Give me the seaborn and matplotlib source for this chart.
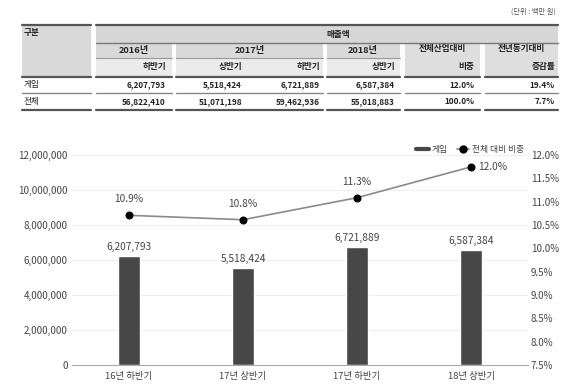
import numpy as np
import matplotlib.pyplot as plt
from matplotlib.lines import Line2D
from matplotlib.patches import Rectangle
from matplotlib.ticker import FuncFormatter
import seaborn as sns

# chart data
periods = ['16년 하반기', '17년 상반기', '17년 하반기', '18년 상반기']
game_sales = [6207793, 5518424, 6721889, 6587384]
share = [10.9, 10.8, 11.3, 12.0]
left_ticks = [0, 2000000, 4000000, 6000000, 8000000, 10000000, 12000000]
right_labels = ['7.5%', '8.0%', '8.5%', '9.0%', '9.5%', '10.0%', '10.5%', '11.0%', '11.5%', '12.0%']

# table data
year_labels = ['2016년', '2017년', '2018년']
half_labels = ['하반기', '상반기', '하반기', '상반기']
row_labels = ['게임', '전체']
game_row = ['6,207,793', '5,518,424', '6,721,889', '6,587,384', '12.0%', '19.4%']
total_row = ['56,822,410', '51,071,198', '59,462,936', '55,018,883', '100.0%', '7.7%']

sns.set_style('white')
plt.rcParams['font.family'] = ['Noto Sans CJK KR', 'DejaVu Sans']

W, H = 585, 389
fig = plt.figure(figsize=(W / 100, H / 100), dpi=100)

def fx(x):
    return x / W

def fy(y):
    return 1 - y / H

# ---------- table ----------
def rect(x0, y0, x1, y1, color):
    fig.patches.append(Rectangle((fx(x0), fy(y1)), fx(x1) - fx(x0), fy(y0) - fy(y1),
                                 transform=fig.transFigure, color=color, lw=0, zorder=0))

def hline(y, x0, x1, lw=1.0, color='#555555'):
    fig.lines.append(Line2D([fx(x0), fx(x1)], [fy(y), fy(y)], transform=fig.transFigure,
                            lw=lw, color=color))

def txt(x, y, s, ha='left', size=6.2, color='#222222', weight='bold'):
    fig.text(fx(x), fy(y), s, ha=ha, va='center', fontsize=size, color=color, fontweight=weight)

groups = [(22, 91), (96, 172), (176, 323), (327, 400), (405, 480), (485, 558)]

rect(22, 25, 91, 77, '#d9d9d9')
rect(96, 25, 558, 43, '#d6d6d6')
for x0, x1 in groups[1:4]:
    rect(x0, 43, x1, 58, '#d9d9d9')
    rect(x0, 58, x1, 77, '#ebebeb')
for x0, x1 in groups[4:]:
    rect(x0, 43, x1, 77, '#dedede')

hline(25, 22, 91, 1.6)
hline(25, 96, 558, 1.6)
hline(43, 96, 558, 1.0, '#777777')
for x0, x1 in groups[1:4]:
    hline(58, x0, x1, 0.8, '#999999')
for x0, x1 in groups:
    hline(77, x0, x1, 1.6, '#555555')
    hline(93, x0, x1, 1.0, '#888888')
    hline(110, x0, x1, 1.6, '#555555')

txt(556, 12, '(단위 : 백만 원)', ha='right', size=5.2, color='#555555', weight='normal')
txt(24, 33, '구분')
txt(326, 34, '매출액')
for s, xc in zip(year_labels, [134, 250, 363]):
    txt(xc, 51, s, ha='center', size=6.6)
for s, xr in zip(half_labels, [166, 242, 320, 395]):
    txt(xr, 67, s, ha='right')
txt(442, 49, '전체산업대비', ha='center')
txt(474, 67, '비중', ha='right')
txt(521, 49, '전년동기대비', ha='center')
txt(555, 67, '증감률', ha='right')

value_x = [166, 242, 320, 395, 474, 555]
for row_y, label, vals in zip([85, 102], row_labels, [game_row, total_row]):
    txt(24, row_y, label, weight='normal')
    for xr, v in zip(value_x, vals):
        txt(xr, row_y, v, ha='right', size=5.9)

# ---------- chart ----------
ax = fig.add_axes([fx(72), fy(365), (528 - 72) / W, (365 - 155) / H])
sns.barplot(x=periods, y=game_sales, color='#474747', saturation=1, width=0.2, ax=ax)
ax.set_ylim(0, 12000000)
ax.set_yticks(left_ticks)
ax.yaxis.set_major_formatter(FuncFormatter(lambda v, p: f'{v:,.0f}'))
ax.grid(axis='y', color='#eeeeee', lw=0.8)
ax.set_axisbelow(True)
for s in ['top', 'left', 'right']:
    ax.spines[s].set_visible(False)
ax.spines['bottom'].set_color('#aaaaaa')
ax.tick_params(axis='both', length=0, labelsize=7, colors='#444444')
ax.tick_params(axis='y', pad=3)
ax.tick_params(axis='x', pad=5, labelsize=6.8)
ax.set_xlabel('')
ax.set_ylabel('')
ax.bar_label(ax.containers[0], labels=[f'{v:,}' for v in game_sales],
             padding=3, fontsize=7.3, color='#444444')

ax2 = ax.twinx()
x_pos = np.arange(len(periods))
sns.lineplot(x=x_pos, y=share, ax=ax2, color='#8a8a8a', lw=1.2, marker='o',
             markerfacecolor='black', markeredgecolor='black', markersize=5)
lo, hi = 7.5, 12.27
ax2.set_ylim(lo, hi)
ax2.set_yticks(np.linspace(lo, hi, len(right_labels)))
ax2.set_yticklabels(right_labels)
ax2.set_xlim(-0.5, len(periods) - 0.5)
for s in ['top', 'left', 'right', 'bottom']:
    ax2.spines[s].set_visible(False)
ax2.tick_params(axis='y', length=0, labelsize=7, colors='#444444', pad=2)
ax2.set_ylabel('')
for i, v in enumerate(share):
    if i == len(share) - 1:
        ax2.annotate(f'{v:.1f}%', (i, v), xytext=(5, 0), textcoords='offset points',
                     ha='left', va='center', fontsize=7.3, color='#444444')
    else:
        ax2.annotate(f'{v:.1f}%', (i, v), xytext=(0, 8), textcoords='offset points',
                     ha='center', va='bottom', fontsize=7.3, color='#444444')

handles = [Line2D([], [], color='#474747', lw=3),
           Line2D([], [], color='#8a8a8a', lw=1.2, marker='o', markerfacecolor='black',
                  markeredgecolor='black', markersize=5)]
ax2.legend(handles, ['게임', '전체 대비 비중'], ncol=2, loc='lower right',
           bbox_to_anchor=(1.0, 0.99), frameon=False, fontsize=6.3, handlelength=1.4,
           columnspacing=1.0, handletextpad=0.4, borderaxespad=0, labelcolor='#444444')

fig.savefig('out.png', dpi=100)
